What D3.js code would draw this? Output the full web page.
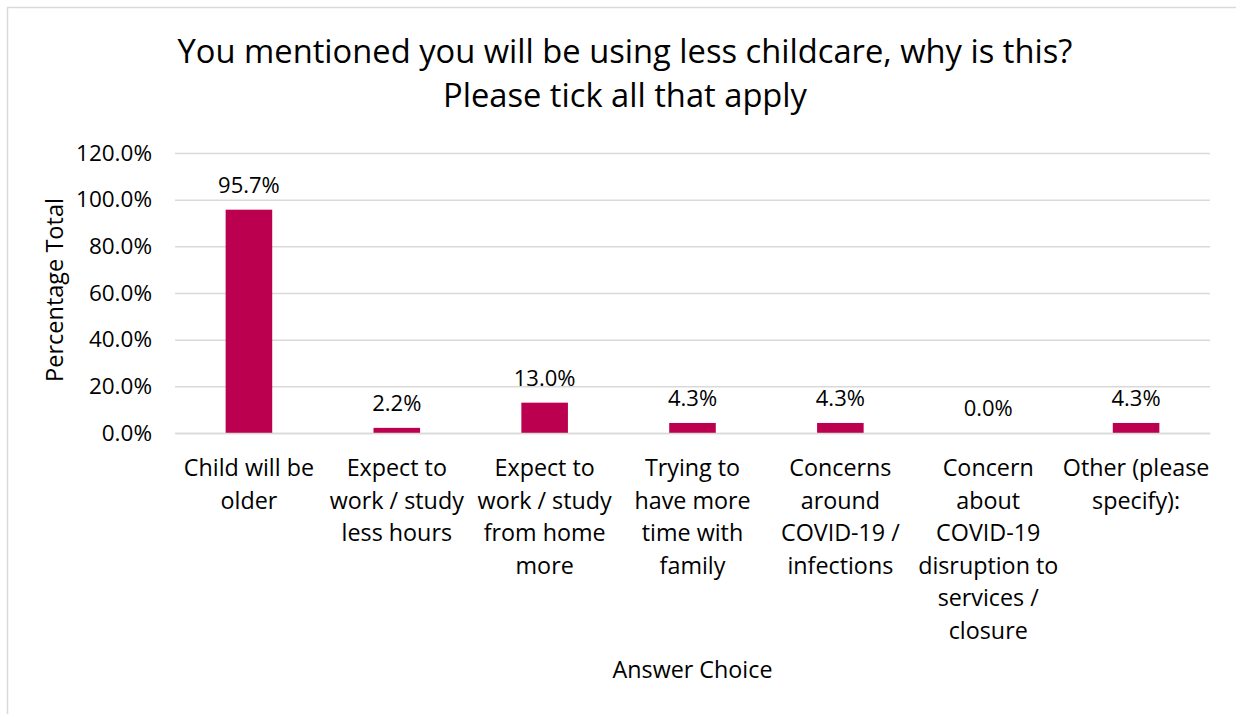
<!DOCTYPE html>
<html>
<head>
<meta charset="utf-8">
<script src="https://cdn.jsdelivr.net/npm/d3@7"></script>
<style>
  body { margin: 0; background: #fff; }
  svg text { font-family: "Open Sans", Lato, sans-serif; fill: #000; }
</style>
</head>
<body>
<svg id="chart"></svg>
<script>
const categories = [
  ["Child will be", "older"],
  ["Expect to", "work / study", "less hours"],
  ["Expect to", "work / study", "from home", "more"],
  ["Trying to", "have more", "time with", "family"],
  ["Concerns", "around", "COVID-19 /", "infections"],
  ["Concern", "about", "COVID-19", "disruption to", "services /", "closure"],
  ["Other (please", "specify):"]
];
const values = [95.7, 2.2, 13.0, 4.3, 4.3, 0.0, 4.3];
const yTicks = [0, 20, 40, 60, 80, 100, 120];
const titleLines = [
  "You mentioned you will be using less childcare, why is this?",
  "Please tick all that apply"
];

const chartSize = { width: 1236, height: 714 };
const margin = { left: 175, right: 26, top: 153, bottom: 281 };
const width = chartSize.width - margin.left - margin.right;
const height = chartSize.height - margin.top - margin.bottom;

const svg = d3
  .select("#chart")
  .attr("width", chartSize.width)
  .attr("height", chartSize.height);

// outer chart border
svg.append("rect")
  .attr("x", 7.5)
  .attr("y", 7.5)
  .attr("width", 1240)
  .attr("height", 720)
  .attr("fill", "none")
  .attr("stroke", "#d9d9d9")
  .attr("stroke-width", 1.5);

svg.append("g")
  .selectAll("text")
  .data(titleLines)
  .join("text")
  .attr("x", 625)
  .attr("y", (d, i) => 63 + i * 44)
  .attr("text-anchor", "middle")
  .style("font-size", "32.7px")
  .text(d => d);

const g = svg.append("g")
  .attr("transform", `translate(${margin.left},${margin.top})`);

const x = d3.scaleBand()
  .domain(d3.range(categories.length))
  .range([0, width])
  .paddingInner(0.685)
  .paddingOuter(0.3425);

const y = d3.scaleLinear()
  .domain([0, 120])
  .range([height, 0]);

const yAxis = d3.axisLeft(y)
  .tickValues(yTicks)
  .tickSize(-width)
  .tickPadding(23)
  .tickFormat(d => d.toFixed(1) + "%");

g.append("g")
  .attr("class", "y-axis")
  .call(yAxis)
  .call(a => a.select(".domain").remove())
  .call(a => a.selectAll(".tick line").attr("stroke", "#d9d9d9").attr("stroke-width", 1.5))
  .call(a => a.selectAll(".tick text").style("font-size", "22.5px").attr("fill", "#000"));

g.selectAll(".bar")
  .data(values)
  .join("rect")
  .attr("class", "bar")
  .attr("x", (d, i) => x(i))
  .attr("y", d => y(d))
  .attr("width", x.bandwidth())
  .attr("height", d => height - y(d))
  .attr("fill", "#bb004f");

g.selectAll(".value")
  .data(values)
  .join("text")
  .attr("class", "value")
  .attr("x", (d, i) => x(i) + x.bandwidth() / 2)
  .attr("y", d => y(d) - 17)
  .attr("text-anchor", "middle")
  .style("font-size", "22px")
  .text(d => d.toFixed(1) + "%");

const xAxis = d3.axisBottom(x).tickSize(0).tickFormat("");
const xg = g.append("g")
  .attr("class", "x-axis")
  .attr("transform", `translate(0,${height})`)
  .call(xAxis)
  .call(a => a.select(".domain").attr("stroke", "#d9d9d9").attr("stroke-width", 1.5));

xg.selectAll(".tick")
  .append("text")
  .attr("text-anchor", "middle")
  .style("font-size", "23.3px")
  .selectAll("tspan")
  .data(i => categories[i])
  .join("tspan")
  .attr("x", 0)
  .attr("y", (d, j) => 43 + j * 32.5)
  .text(d => d);

g.append("text")
  .attr("x", width / 2)
  .attr("y", 678 - margin.top)
  .attr("text-anchor", "middle")
  .style("font-size", "23.3px")
  .text("Answer Choice");

g.append("text")
  .attr("transform", "rotate(-90)")
  .attr("x", -(290 - margin.top))
  .attr("y", 63 - margin.left)
  .attr("text-anchor", "middle")
  .style("font-size", "23.5px")
  .text("Percentage Total");
</script>
</body>
</html>
